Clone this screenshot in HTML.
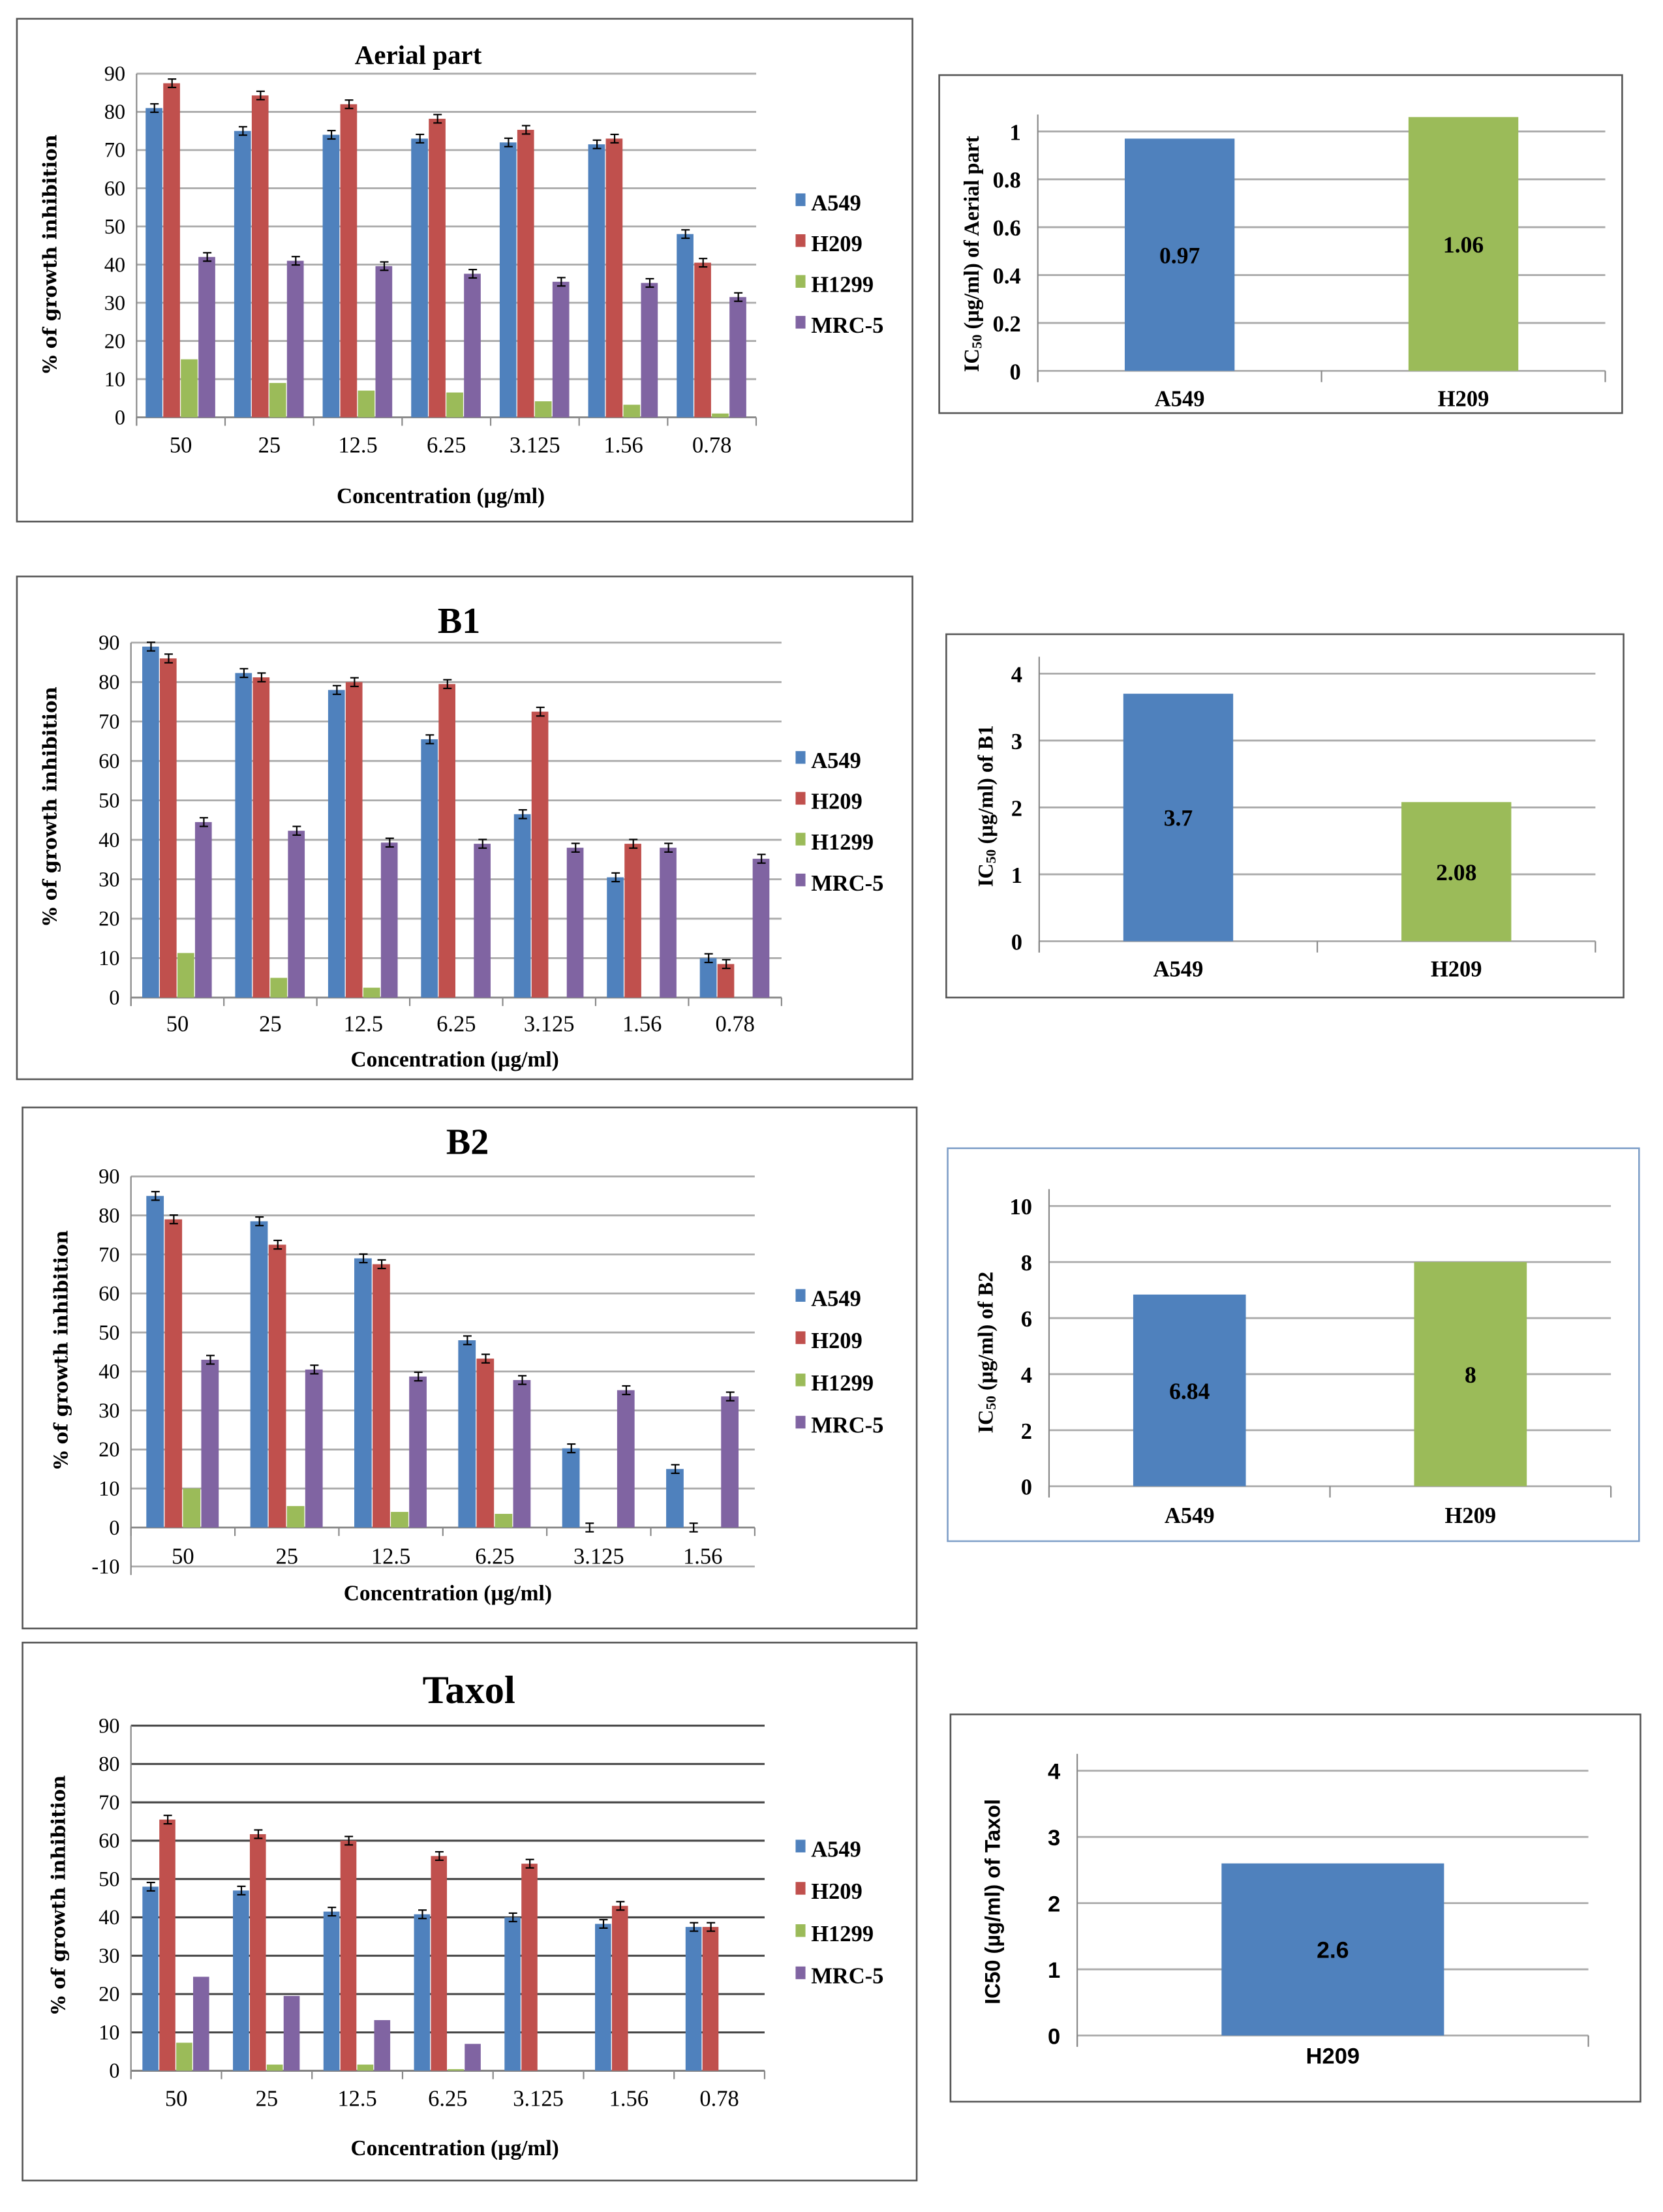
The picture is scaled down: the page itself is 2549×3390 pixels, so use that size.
<!DOCTYPE html>
<html><head><meta charset="utf-8"><style>
html,body{margin:0;padding:0;background:#fff;}
svg{display:block;}
text{fill:#000;}
</style></head><body>
<svg id="fig" width="2549" height="3390" viewBox="0 0 1181 1570" xmlns="http://www.w3.org/2000/svg" style="font-family:'Liberation Serif',serif"></svg>
<script>
// ---- data ----
const catsA = ["50","25","12.5","6.25","3.125","1.56","0.78"];
const catsB2 = ["50","25","12.5","6.25","3.125","1.56"];
const seriesNames = ["A549","H209","H1299","MRC-5"];
const aerialA549 = [81,75,74,73,72,71.5,48];
const aerialH209 = [87.5,84.3,82,78.2,75.3,73,40.5];
const aerialH1299 = [15.2,9,7,6.5,4.2,3.3,1];
const aerialMRC5 = [42,41,39.6,37.6,35.5,35.2,31.5];
const b1A549 = [89,82.3,78,65.5,46.5,30.5,10];
const b1H209 = [86,81.2,80,79.5,72.5,39,8.5];
const b1H1299 = [11.3,5,2.5,0,0,0,0];
const b1MRC5 = [44.5,42.3,39.3,39,38,38,35.2];
const b2A549 = [85,78.5,69,48,20.3,15];
const b2H209 = [79,72.5,67.5,43.3,0,0];
const b2H1299 = [10,5.5,4,3.5,0,0];
const b2MRC5 = [43,40.5,38.7,37.8,35.2,33.6];
const taxA549 = [48,47,41.5,40.8,40,38.3,37.5];
const taxH209 = [65.5,61.7,60,56,54,43,37.5];
const taxH1299 = [7.3,1.6,1.6,0.4,0,0,0];
const taxMRC5 = [24.5,19.5,13.2,7,0,0,0];
const icAerialCats = ["A549","H209"];
const icAerialVals = [0.97,1.06];
const icAerialTicks = [0,0.2,0.4,0.6,0.8,1];
const icB1Cats = ["A549","H209"];
const icB1Vals = [3.7,2.08];
const icB1Ticks = [0,1,2,3,4];
const icB2Cats = ["A549","H209"];
const icB2Vals = [6.84,8];
const icB2Ticks = [0,2,4,6,8,10];
const icTaxCats = ["H209"];
const icTaxVals = [2.6];
const icTaxTicks = [0,1,2,3,4];
const ticks90 = [0,10,20,30,40,50,60,70,80,90];
const ticksB2 = [-10,0,10,20,30,40,50,60,70,80,90];

const COLORS = ["#4f81bd","#c0504d","#9bbb59","#8064a2"];
const NS = "http://www.w3.org/2000/svg";
const svg = document.getElementById('fig');
function mk(tag, attrs, parent){
  const e = document.createElementNS(NS, tag);
  for (const k in attrs) e.setAttribute(k, attrs[k]);
  (parent||svg).appendChild(e);
  return e;
}
function txt(s, attrs, parent){ const t = mk('text', attrs, parent); t.textContent = s; return t; }

function groupChart(o){
  const g = mk('g', {});
  
  
  const fr = mk('rect', {x:o.fx, y:o.fy, width:o.fw, height:o.fh, fill:'#fff', stroke:'#555', 'stroke-width':1.2}, g);
  
  
  const y = v => o.y0 - (v - o.tickVals[0]) * (o.y0 - o.yTop) / (o.tickVals[o.tickVals.length-1] - o.tickVals[0]);
  const zeroY = y(0);
  o.tickVals.forEach(v => {
    const gl = mk('line', {x1:o.x0, x2:o.x1, y1:y(v), y2:y(v), stroke:o.gridColor, 'stroke-width':o.gridW}, g);
    
    
    const tl = txt(String(v), {x:o.x0-8, y:y(v)+5, 'font-size':15, 'text-anchor':'end'}, g);
    
    
  });
  mk('line', {x1:o.x0, x2:o.x0, y1:o.yTop, y2:o.y0+6, stroke:'#888', 'stroke-width':1}, g);
  const n = o.cats.length, cw = (o.x1 - o.x0) / n;
  for (let i = 0; i <= n; i++) mk('line', {x1:o.x0+i*cw, x2:o.x0+i*cw, y1:zeroY, y2:zeroY+6, stroke:'#888', 'stroke-width':1}, g);
  mk('line', {x1:o.x0, x2:o.x1, y1:zeroY, y2:zeroY, stroke:'#888', 'stroke-width':1.2}, g);
  const bw = o.bw;
  o.series.forEach((arr, s) => {
    arr.forEach((v, i) => {
      const cx = o.x0 + (i + 0.5) * cw;
      const bx = cx - 2 * bw + s * bw;
      const top = y(Math.max(v, 0));
      const r = mk('rect', {x:bx, y:top, width:bw-0.6, height:Math.max(0, zeroY - top), fill:COLORS[s]}, g);
      
      
      if (o.err[s] && (v > 0 || o.errZero)) {
        const ex = bx + bw/2, e = 1.1;
        mk('line', {x1:ex, x2:ex, y1:y(v+e), y2:y(v-e), stroke:'#000', 'stroke-width':1}, g);
        mk('line', {x1:ex-3, x2:ex+3, y1:y(v+e), y2:y(v+e), stroke:'#000', 'stroke-width':1}, g);
        mk('line', {x1:ex-3, x2:ex+3, y1:y(v-e), y2:y(v-e), stroke:'#000', 'stroke-width':1}, g);
      }
    });
  });
  o.cats.forEach((c, i) => {
    const t = txt(c, {x:o.x0 + (i+0.5)*cw, y:o.labY, 'font-size':16, 'text-anchor':'middle'}, g);
    
    
  });
  const tt = txt(o.title, {x:o.tx, y:o.ty, 'font-size':o.tfs, 'font-weight':'bold', 'text-anchor':'middle'}, g);
  
  
  const xt = txt("Concentration (µg/ml)", {x:o.xtx, y:o.xty, 'font-size':15.5, 'font-weight':'bold', 'text-anchor':'middle'}, g);
  
  
  const yt = txt("% of growth inhibition", {x:0, y:0, 'font-size':13.5, 'font-weight':'bold', 'text-anchor':'middle', transform:`translate(${o.ytx},${o.yty}) rotate(-90)`, style:"font-family:'DejaVu Serif',serif"}, g);
  
  
  o.legY.forEach((ly, s) => {
    const sw = mk('rect', {x:565, y:ly-6, width:7, height:9, fill:COLORS[s]}, g);
    
    
    const lt = txt(seriesNames[s], {x:576, y:ly+6, 'font-size':16, 'font-weight':'bold'}, g);
    
    
  });
}

function icChart(o){
  const g = mk('g', {});
  
  
  const fam = o.sans?"font-family:'Liberation Sans',sans-serif":"font-family:'Liberation Serif',serif";
  const fr = mk('rect', {x:o.fx, y:o.fy, width:o.fw, height:o.fh, fill:'#fff', stroke:o.frameColor, 'stroke-width':1.2}, g);
  
  
  const tmax = o.ticks[o.ticks.length-1];
  const y = v => o.y0 - v * (o.y0 - o.yTop) / tmax;
  o.ticks.forEach(v => {
    mk('line', {x1:o.x0, x2:o.x1, y1:y(v), y2:y(v), stroke:'#aaa', 'stroke-width':1.3}, g);
    const tl = txt(String(v), {x:o.x0-12, y:y(v)+6, 'font-size':16, 'font-weight':'bold', 'text-anchor':'end', style:fam}, g);
    
    
  });
  mk('line', {x1:o.x0, x2:o.x0, y1:o.yTop-12, y2:o.y0+8, stroke:'#888', 'stroke-width':1}, g);
  const n = o.cats.length, cw = (o.x1 - o.x0) / n;
  for (let i = 0; i <= n; i++) mk('line', {x1:o.x0+i*cw, x2:o.x0+i*cw, y1:o.y0, y2:o.y0+8, stroke:'#888', 'stroke-width':1}, g);
  o.vals.forEach((v, i) => {
    const cx = o.x0 + (i + 0.5) * cw;
    const r = mk('rect', {x:cx-o.bw/2, y:y(v), width:o.bw, height:o.y0 - y(v), fill:o.colors[i]}, g);
    
    
    const vl = txt(String(v), {x:cx, y:(y(v)+o.y0)/2+6, 'font-size':16.5, 'font-weight':'bold', 'text-anchor':'middle', style:fam}, g);
    
    
    const xl = txt(o.cats[i], {x:cx, y:o.labY, 'font-size':16, 'font-weight':'bold', 'text-anchor':'middle', style:fam}, g);
    
    
  });
  const yt = mk('text', {x:0, y:0, 'font-size':15, 'font-weight':'bold', 'text-anchor':'middle', transform:`translate(${o.ytx},${o.yty}) rotate(-90)`, style:fam}, g);
  
  
  if (o.sub) {
    const a = mk('tspan', {}, yt); a.textContent = 'IC';
    const b = mk('tspan', {'font-size':10, dy:2}, yt); b.textContent = '50';
    const c = mk('tspan', {dy:-2}, yt); c.textContent = ' ' + o.ytitle;
  } else {
    yt.textContent = o.ytitle;
  }
}

groupChart({name:'aerial-part-chart', fx:12, fy:13, fw:636, fh:357, x0:97, x1:537, y0:296, yTop:52, tickVals:ticks90,
  cats:catsA, series:[aerialA549,aerialH209,aerialH1299,aerialMRC5], err:[1,1,0,1], bw:12.5, labY:321,
  title:'Aerial part', tx:297, ty:45, tfs:19, xtx:313, xty:357, ytx:40, yty:180, legY:[143,172,201,230],
  gridColor:'#aaa', gridW:1.3});
groupChart({name:'b1-chart', fx:12, fy:409, fw:636, fh:357, x0:93, x1:555, y0:708, yTop:456, tickVals:ticks90,
  cats:catsA, series:[b1A549,b1H209,b1H1299,b1MRC5], err:[1,1,0,1], bw:12.5, labY:732,
  title:'B1', tx:326, ty:449, tfs:26, xtx:323, xty:757, ytx:40, yty:572, legY:[539,568,597,626],
  gridColor:'#aaa', gridW:1.3});
groupChart({name:'b2-chart', fx:16, fy:786, fw:635, fh:370, x0:93, x1:536, y0:1112, yTop:835, tickVals:ticksB2,
  cats:catsB2, series:[b2A549,b2H209,b2H1299,b2MRC5], err:[1,1,0,1], errZero:true, bw:13, labY:1110,
  title:'B2', tx:332, ty:819, tfs:26, xtx:318, xty:1136, ytx:48, yty:958, legY:[921,951,981,1011],
  gridColor:'#aaa', gridW:1.3});
groupChart({name:'taxol-chart', fx:16, fy:1166, fw:635, fh:382, x0:93, x1:543, y0:1470, yTop:1225, tickVals:ticks90,
  cats:catsA, series:[taxA549,taxH209,taxH1299,taxMRC5], err:[1,1,0,0], bw:12, labY:1495,
  title:'Taxol', tx:333, ty:1209, tfs:28, xtx:323, xty:1530, ytx:46, yty:1345, legY:[1312,1342,1372,1402],
  gridColor:'#444', gridW:1.4});

icChart({name:'ic50-aerial-chart', fx:667, fy:53, fw:485, fh:240, frameColor:'#555', x0:737, x1:1140, y0:263, yTop:93,
  ticks:icAerialTicks, cats:icAerialCats, vals:icAerialVals, colors:['#4f81bd','#9bbb59'], bw:78, labY:288,
  ytitle:'(µg/ml) of Aerial part', sub:true, ytx:695, yty:180});
icChart({name:'ic50-b1-chart', fx:672, fy:450, fw:481, fh:258, frameColor:'#555', x0:738, x1:1133, y0:668, yTop:478,
  ticks:icB1Ticks, cats:icB1Cats, vals:icB1Vals, colors:['#4f81bd','#9bbb59'], bw:78, labY:693,
  ytitle:'(µg/ml) of B1', sub:true, ytx:705, yty:572});
icChart({name:'ic50-b2-chart', fx:673, fy:815, fw:491, fh:279, frameColor:'#7f9fc8', x0:745, x1:1144, y0:1055, yTop:856,
  ticks:icB2Ticks, cats:icB2Cats, vals:icB2Vals, colors:['#4f81bd','#9bbb59'], bw:80, labY:1081,
  ytitle:'(µg/ml) of B2', sub:true, ytx:705, yty:960});
icChart({name:'ic50-taxol-chart', fx:675, fy:1217, fw:490, fh:275, frameColor:'#555', x0:765, x1:1128, y0:1445, yTop:1257,
  ticks:icTaxTicks, cats:icTaxCats, vals:icTaxVals, colors:['#4f81bd'], bw:158, labY:1465,
  ytitle:'IC50 (µg/ml) of Taxol', ytx:710, yty:1350, sans:true});
</script>
</body></html>
